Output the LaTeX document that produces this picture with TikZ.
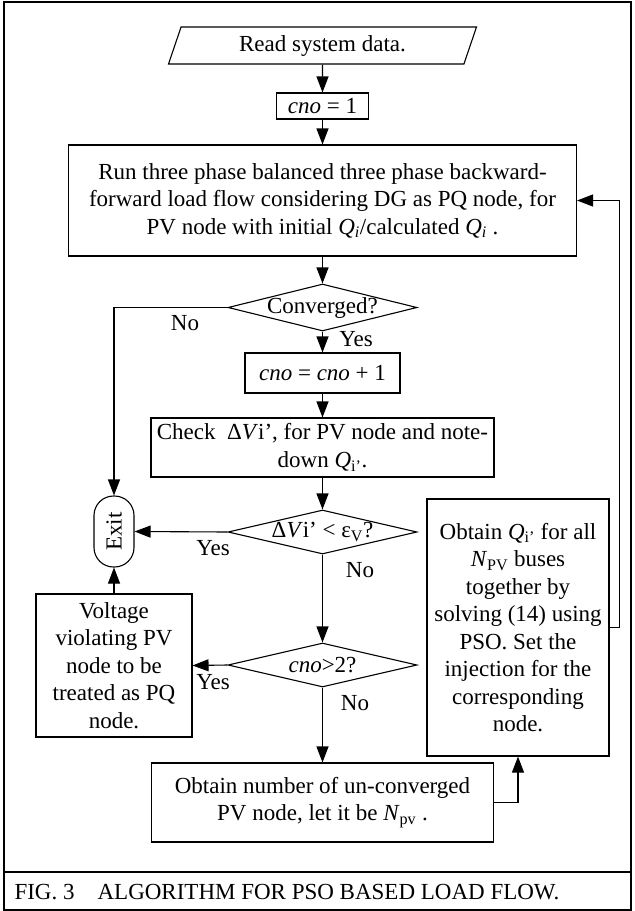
\documentclass[tikz,border=0pt]{standalone}
\usepackage{fontspec}
\setmainfont{Liberation Serif}
\usetikzlibrary{shapes.geometric,arrows.meta}

\begin{document}
\begin{tikzpicture}[x=1pt, y=-1pt, line width=1.1pt,
  font=\fontsize{23pt}{27.5pt}\selectfont,
  box/.style={draw, align=center, inner sep=0pt},
  decision/.style={draw, diamond, aspect=4.3, inner sep=-3pt, minimum width=189pt},
  arr/.style={-{Triangle[length=16pt,width=12pt]}}]
  \useasboundingbox (0,0) rectangle (635,911);

  % frame and caption
  \draw[line width=2pt] (4,2) rectangle (631,910);
  \draw[line width=2pt] (4,872) -- (631,872);
  \node[anchor=base west, inner sep=0pt] (caption) at (14,899.5) {FIG. 3\quad ALGORITHM FOR PSO BASED LOAD FLOW.};

  % main column
  \node[draw, trapezium, trapezium left angle=59, trapezium right angle=121,
        trapezium stretches body, minimum width=308pt, minimum height=37pt, inner sep=0pt] (read) at (322.5,45.5) {Read system data.};
  \node[box, minimum width=92pt, minimum height=26pt] (cnoa) at (322.5,106) {\textit{cno} = 1};
  \node[box, minimum width=508pt, minimum height=111pt] (run) at (322.5,200.5)
    {Run three phase balanced three phase backward-\\forward load flow considering DG as PQ node, for\\PV node with initial \textit{Q\textsubscript{i}}/calculated \textit{Q\textsubscript{i}} .};
  \node[decision, minimum height=47pt] (conv) at (322.5,307.5) {Converged?};
  \node[box, minimum width=155pt, minimum height=40pt] (cnoinc) at (322.5,373) {\textit{cno} = \textit{cno} + 1};
  \node[box, minimum width=343pt, minimum height=59pt] (check) at (322.5,447.5)
    {Check~ Δ\textit{V}i’, for PV node and note-\\down \textit{Q}\textsubscript{i’}.};
  \node[decision, minimum height=44pt] (dv) at (322.5,532) {Δ\textit{V}i’ < ε\textsubscript{V}?};
  \node[decision, minimum height=44pt] (cnob) at (322.5,665) {\textit{cno}>2?};
  \node[box, minimum width=342pt, minimum height=79pt] (npv) at (322.5,802.5)
    {Obtain number of un-converged\\PV node, let it be \textit{N}\textsubscript{pv} .};

  % left column
  \node[box, rounded corners=19.5pt, minimum width=40pt, minimum height=71pt] (exit) at (114,531.5) {\rotatebox{90}{Exit}};
  \node[box, minimum width=156pt, minimum height=143pt] (volt) at (114,665.5)
    {Voltage\\violating PV\\node to be\\treated as PQ\\node.};

  % right column
  \node[box, minimum width=182pt, minimum height=257pt] (obq) at (518,627.5)
    {Obtain \textit{Q}\textsubscript{i’} for all\\\textit{N}\textsubscript{PV} buses\\together by\\solving (14) using\\PSO. Set the\\injection for the\\corresponding\\node.};

  % connectors
  \draw[arr] (read) -- (cnoa);
  \draw[arr] (cnoa) -- (run);
  \draw[arr] (run) -- (conv);
  \draw[arr] (conv) -- (cnoinc);
  \draw[arr] (cnoinc) -- (check);
  \draw[arr] (check) -- (dv);
  \draw[arr] (dv) -- (cnob);
  \draw[arr] (cnob) -- (npv);
  \draw[arr] (conv.west) -| (exit.north);
  \draw[arr] (dv.west) -- (exit.east);
  \draw[arr] (cnob.west) -- (volt.east);
  \draw[arr] (volt) -- (exit);
  \draw[arr] (npv.east) -| (obq.south);
  \draw[arr] (obq.east) -- ++(10,0) |- (run.east);

  % yes / no labels
  \node (noa) at (185,323) {No};
  \node (yesa) at (356,339) {Yes};
  \node (yesb) at (213,548) {Yes};
  \node (nob) at (360,570) {No};
  \node (yesc) at (213,682) {Yes};
  \node (noc) at (355,703) {No};
\end{tikzpicture}
\end{document}
